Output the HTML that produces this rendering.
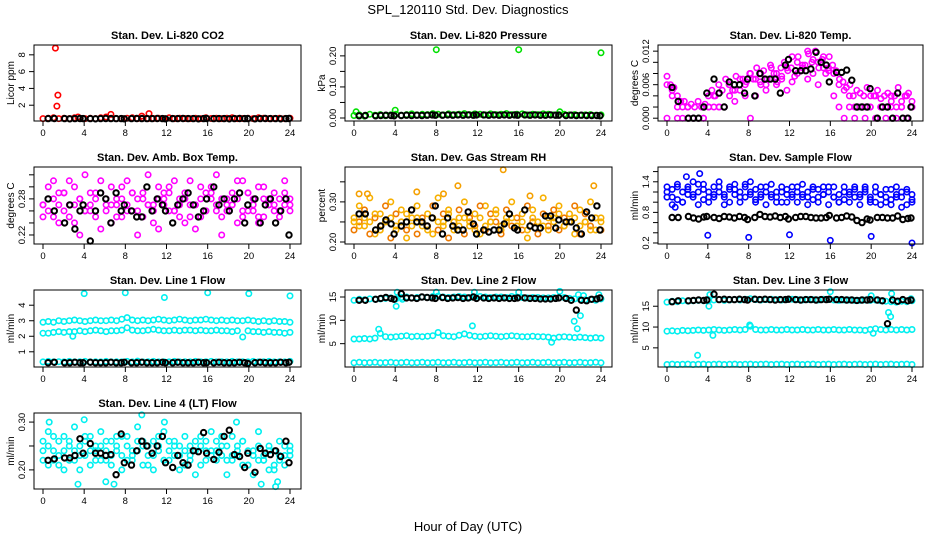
<!DOCTYPE html>
<html><head><meta charset="utf-8">
<style>
html,body{margin:0;padding:0;background:#fff;}
svg{display:block;font-family:"Liberation Sans",sans-serif;}
</style></head>
<body>
<svg id="chart" width="936" height="540" viewBox="0 0 936 540">
<text x="468" y="14" text-anchor="middle" font-size="13">SPL_120110  Std. Dev. Diagnostics</text>
<text x="468" y="531" text-anchor="middle" font-size="13">Hour of Day (UTC)</text>
</svg>
<script>
// ---------- data ----------
const blackHours = [0.5,1.1,2.1,2.6,3.1,3.6,3.9,4.6,5.1,5.6,6.1,6.6,7.1,7.6,7.9,8.6,9.1,9.6,10.1,10.6,11.1,11.6,11.9,12.6,13.1,13.6,14.1,14.6,15.1,15.6,15.9,16.6,17.1,17.6,18.1,18.6,19.1,19.6,19.9,20.6,21.1,21.6,22.1,22.6,23.1,23.6,23.9];
const xTickValues = [0,4,8,12,16,20,24];

const co2Red = [0.4,0.45,0.5,0.4,0.45,0.4,0.5,0.42,0.4,0.45,0.4,0.5,0.6,0.45,0.4,0.42,0.45,0.5,0.4,0.45,0.4,0.42,0.45,0.4,0.5,0.4,0.45,0.42,0.4,0.45,0.4,0.5,0.42,0.45,0.4,0.45,0.5,0.4,0.42,0.45,0.4,0.5,0.45,0.4,0.42,0.45,0.4,0.45];
const co2OutHours = [1.2,1.45,1.35,3.4,6.6,9.6,10.3];
const co2OutVals = [8.8,3.2,1.9,0.6,0.9,0.7,1.0];
const co2Black = [0.4,0.42,0.4,0.38,0.4,0.42,0.4,0.4,0.38,0.4,0.42,0.4,0.4,0.4,0.38,0.4,0.42,0.4,0.4,0.4,0.42,0.4,0.38,0.4,0.4,0.42,0.4,0.4,0.38,0.4,0.42,0.4,0.4,0.4,0.38,0.4,0.42,0.4,0.4,0.38,0.4,0.42,0.4,0.4,0.38,0.4,0.42];

const presGreen = [0.008,0.01,0.006,0.012,0.009,0.011,0.007,0.01,0.012,0.009,0.011,0.013,0.01,0.012,0.011,0.014,0.012,0.01,0.013,0.011,0.012,0.014,0.011,0.013,0.012,0.01,0.013,0.011,0.012,0.014,0.011,0.012,0.013,0.01,0.012,0.011,0.013,0.012,0.01,0.011,0.012,0.01,0.011,0.009,0.01,0.011,0.009,0.01];
const presOutHours = [0.2,4.0,8.0,16.0,20.0,24.0];
const presOutVals = [0.02,0.025,0.22,0.22,0.02,0.21];
const presBlack = [0.007,0.008,0.007,0.008,0.009,0.008,0.007,0.008,0.009,0.008,0.009,0.008,0.009,0.01,0.009,0.009,0.01,0.009,0.01,0.009,0.01,0.009,0.01,0.01,0.009,0.01,0.009,0.01,0.009,0.01,0.009,0.01,0.009,0.01,0.009,0.009,0.01,0.009,0.009,0.008,0.009,0.008,0.009,0.008,0.008,0.008,0.007];

const tempA = [0.0075,0.006,0.0055,0.004,0.003,0.003,0.002,0.0025,0.002,0.003,0.002,0.0025,0.004,0.005,0.004,0.006,0.005,0.007,0.006,0.005,0.0075,0.006,0.007,0.0065,0.008,0.007,0.009,0.0065,0.0085,0.007,0.0095,0.008,0.0065,0.009,0.01,0.0085,0.009,0.0075,0.011,0.0085,0.0095,0.0115,0.01,0.012,0.009,0.0105,0.008,0.011,0.0095,0.0085,0.007,0.0065,0.0055,0.006,0.004,0.005,0.0045,0.004,0.0055,0.004,0.004,0.005,0.0035,0.004,0.0045,0.003,0.004,0.0055,0.003,0.004,0.0045,0.003];
const tempB = [0,0.004,0,0,0.002,0,0,0,0.002,0.002,0.002,0.002,0.004,0.003,0.005,0.004,0,0.004,0.006,0.005,0.007,0.006,0.0075,0.005,0.0065,0.008,0.0095,0.007,0.0105,0.006,0.009,0.0085,0.004,0.002,0,0.002,0,0.002,0,0.002,0,0.002,0,0.002,0,0.002,0,0.002];
const tempC = [0.006,0.005,0.002,0.002,0,0,0,0,0.002,0.004,0.002,0.002,0.006,0.005,0.007,0.006,0.008,0.007,0.008,0.006,0.009,0.008,0.007,0.009,0.011,0.01,0.009,0.012,0.008,0.01,0.011,0.009,0.008,0.006,0.005,0.004,0.002,0.002,0.002,0.002,0.004,0.002,0.002,0.004,0.002,0.002,0.004,0.002];
const tempBlack = [0.0055,0.003,0,0,0,0.002,0.0045,0.007,0.0045,0.002,0.0065,0.006,0.006,0.0045,0.007,0.004,0.008,0.007,0.007,0.007,0.0045,0.0095,0.0105,0.0085,0.0085,0.0085,0.0088,0.0118,0.01,0.0095,0.0065,0.0082,0.0082,0.0086,0.0068,0.002,0.002,0.002,0.0053,0,0.002,0.002,0,0.0045,0,0,0.002];

const ambA = [0.27,0.30,0.25,0.29,0.26,0.31,0.24,0.28,0.32,0.26,0.29,0.23,0.27,0.30,0.25,0.28,0.31,0.26,0.22,0.29,0.27,0.24,0.30,0.28,0.26,0.31,0.25,0.29,0.27,0.23,0.30,0.26,0.28,0.32,0.25,0.27,0.29,0.24,0.31,0.26,0.28,0.30,0.25,0.27,0.29,0.26,0.31,0.27];
const ambB = [0.25,0.28,0.31,0.24,0.29,0.27,0.30,0.22,0.26,0.29,0.25,0.31,0.28,0.24,0.27,0.30,0.26,0.29,0.28,0.25,0.32,0.27,0.23,0.29,0.30,0.26,0.28,0.24,0.31,0.27,0.25,0.29,0.30,0.26,0.22,0.28,0.27,0.31,0.25,0.29,0.26,0.24,0.30,0.28,0.27,0.25,0.29,0.28];
const ambC = [0.27,0.26,0.28,0.27,0.29,0.25,0.27,0.28,0.26,0.27,0.28,0.29,0.26,0.27,0.28,0.25,0.27,0.29,0.26,0.28,0.27,0.26,0.28,0.27,0.29,0.26,0.27,0.28,0.25,0.27,0.28,0.26,0.29,0.27,0.28,0.26,0.27,0.28,0.26,0.29,0.27,0.25,0.28,0.27,0.26,0.28,0.27,0.26];
const ambBlack = [0.28,0.26,0.24,0.27,0.23,0.26,0.27,0.21,0.26,0.29,0.28,0.24,0.29,0.26,0.27,0.26,0.25,0.25,0.30,0.26,0.28,0.27,0.26,0.24,0.27,0.28,0.29,0.27,0.25,0.26,0.28,0.30,0.27,0.28,0.26,0.28,0.29,0.24,0.27,0.28,0.24,0.27,0.28,0.24,0.26,0.28,0.22];

const rhA = [0.26,0.29,0.24,0.31,0.22,0.27,0.25,0.30,0.23,0.28,0.21,0.26,0.29,0.24,0.27,0.22,0.31,0.25,0.28,0.23,0.26,0.30,0.24,0.27,0.22,0.29,0.25,0.28,0.23,0.26,0.30,0.24,0.27,0.21,0.28,0.25,0.31,0.23,0.26,0.29,0.24,0.27,0.22,0.28,0.25,0.30,0.23,0.26];
const rhB = [0.23,0.25,0.28,0.22,0.26,0.24,0.29,0.21,0.27,0.25,0.23,0.28,0.22,0.26,0.24,0.29,0.23,0.27,0.21,0.25,0.28,0.22,0.26,0.24,0.29,0.23,0.27,0.25,0.22,0.28,0.24,0.26,0.23,0.29,0.25,0.22,0.27,0.24,0.28,0.23,0.26,0.25,0.29,0.22,0.27,0.24,0.26,0.23];
const rhC = [0.25,0.24,0.26,0.25,0.27,0.23,0.25,0.26,0.24,0.25,0.27,0.24,0.26,0.25,0.23,0.26,0.25,0.24,0.27,0.25,0.24,0.26,0.25,0.23,0.26,0.24,0.25,0.27,0.24,0.25,0.26,0.24,0.25,0.23,0.26,0.25,0.24,0.26,0.25,0.27,0.24,0.25,0.26,0.24,0.25,0.23,0.26,0.25];
const rhOutHours = [0.5,1.3,6.1,8.7,10.1,14.5,17.1,23.3];
const rhOutVals = [0.32,0.32,0.325,0.32,0.34,0.38,0.315,0.34];
const rhBlack = [0.27,0.27,0.23,0.24,0.255,0.245,0.22,0.24,0.25,0.28,0.25,0.25,0.24,0.26,0.29,0.22,0.26,0.24,0.23,0.23,0.275,0.245,0.22,0.23,0.225,0.23,0.23,0.245,0.27,0.235,0.23,0.28,0.24,0.235,0.235,0.265,0.265,0.235,0.255,0.25,0.25,0.235,0.22,0.275,0.26,0.29,0.23];

const flowA = [1.2,1.1,1.3,1.0,1.25,1.15,1.35,1.05,1.2,1.1,1.3,1.15,1.0,1.25,1.1,1.35,1.2,1.05,1.15,1.3,1.1,1.2,1.0,1.25,1.15,1.3,1.1,1.2,1.05,1.25,1.15,1.3,1.1,1.0,1.2,1.15,1.25,1.1,1.3,1.05,1.2,1.15,1.0,1.25,1.1,1.2,0.95,1.15];
const flowB = [1.1,1.25,1.05,1.2,1.15,1.1,1.2,1.25,1.1,1.15,1.2,1.1,1.25,1.15,1.2,1.1,1.15,1.25,1.1,1.2,1.15,1.1,1.2,1.15,1.1,1.2,1.15,1.1,1.25,1.1,1.15,1.2,1.1,1.15,1.05,1.2,1.1,1.15,1.2,1.1,1.0,1.15,1.1,1.05,1.15,1.1,1.2,1.05];
const flowC = [1.3,0.95,1.35,1.0,1.3,1.4,0.95,1.35,1.0,1.3,1.4,0.95,1.3,1.35,1.0,1.3,1.4,1.0,1.3,0.95,1.35,1.0,1.3,1.0,1.3,1.0,1.35,0.95,1.3,1.0,1.3,0.95,1.3,1.0,1.3,1.0,1.3,0.95,1.25,1.0,1.3,0.95,1.25,0.95,1.3,0.9,1.25,1.0];
const flowOutHours = [3.2,4.0,8.0,12.0,16.0,20.0,24.0,0.8,1.9];
const flowOutVals = [1.56,0.35,0.31,0.36,0.25,0.33,0.2,0.9,1.5];
const flowBlack = [0.7,0.7,0.72,0.69,0.67,0.71,0.72,0.7,0.68,0.72,0.71,0.69,0.72,0.7,0.66,0.7,0.76,0.72,0.71,0.73,0.7,0.72,0.67,0.7,0.72,0.72,0.7,0.69,0.69,0.7,0.74,0.69,0.7,0.73,0.71,0.64,0.6,0.67,0.65,0.7,0.7,0.69,0.69,0.73,0.66,0.68,0.69];

const l1High = [2.9,2.95,2.9,3.0,2.95,3.0,3.05,3.0,2.95,3.0,3.05,3.0,3.0,3.05,3.0,3.1,3.2,3.05,3.0,3.05,3.0,3.05,3.1,3.05,3.0,3.05,3.1,3.05,3.0,3.05,3.05,3.1,3.05,3.0,3.05,3.0,3.05,3.0,3.0,3.05,3.0,2.95,3.0,2.95,3.0,2.95,2.95,2.9];
const l1Mid = [2.2,2.2,2.25,2.3,2.25,2.3,2.3,2.35,2.3,2.35,2.4,2.35,2.3,2.35,2.35,2.4,2.55,2.4,2.35,2.35,2.4,2.45,2.4,2.35,2.35,2.4,2.35,2.4,2.4,2.35,2.4,2.35,2.35,2.4,2.35,2.35,2.3,2.35,1.95,2.35,2.3,2.3,2.25,2.3,2.25,2.25,2.2,2.25];
const l1Low = [0.35,0.38,0.35,0.36,0.35,0.38,0.35,0.36,0.38,0.35,0.36,0.35,0.38,0.35,0.36,0.35,0.38,0.35,0.4,0.35,0.36,0.38,0.35,0.36,0.35,0.38,0.35,0.36,0.35,0.38,0.35,0.36,0.38,0.35,0.36,0.35,0.38,0.35,0.36,0.35,0.38,0.35,0.36,0.38,0.35,0.36,0.35,0.38];
const l1OutHours = [4.0,8.0,11.8,16.0,20.0,24.0,2.9];
const l1OutVals = [4.75,4.8,4.5,4.8,4.75,4.6,2.0];
const l1Black = [0.3,0.32,0.3,0.3,0.32,0.3,0.3,0.32,0.3,0.3,0.3,0.32,0.3,0.3,0.32,0.3,0.3,0.32,0.3,0.3,0.3,0.32,0.3,0.3,0.32,0.3,0.3,0.3,0.32,0.3,0.3,0.3,0.32,0.3,0.3,0.3,0.32,0.3,0.25,0.3,0.32,0.3,0.3,0.3,0.32,0.3,0.32];

const l2High = [14.3,14.5,14.4,14.6,14.5,14.6,14.7,14.8,14.6,14.9,15.0,14.8,14.9,15.0,14.9,15.1,15.2,15.0,14.9,15.0,15.1,15.0,14.9,15.0,15.1,15.0,14.9,15.0,15.0,14.9,15.1,15.0,14.9,14.8,14.9,14.9,14.8,14.8,14.9,14.8,14.9,14.7,14.6,14.5,14.4,14.5,14.3,14.6];
const l2Mid = [6.0,6.0,6.1,6.0,6.2,7.2,6.5,6.4,6.5,6.6,6.7,6.5,6.6,6.5,6.6,6.7,7.4,6.7,6.6,6.5,6.8,7.1,6.8,6.6,6.5,6.6,6.7,6.6,6.5,6.6,6.7,6.6,6.5,6.5,6.6,6.5,6.5,6.4,6.2,6.4,6.5,6.4,6.3,6.4,6.3,6.2,6.3,6.2];
const l2Low = [0.9,1.0,0.9,0.95,1.0,0.9,0.95,1.0,0.9,0.95,1.0,0.9,0.95,1.0,0.9,0.95,1.0,0.9,0.95,1.0,0.9,0.95,1.0,0.9,0.95,1.0,0.9,0.95,1.0,0.9,0.95,1.0,0.9,0.95,1.0,0.9,0.95,1.0,0.9,0.95,1.0,0.9,0.95,1.0,0.9,0.95,1.0,0.9];
const l2OutHours = [4.2,4.1,4.7,8.0,11.7,16.0,20.0,21.4,21.7,21.8,22.0,22.3,23.8,2.4,11.5,19.2];
const l2OutVals = [16,13,14.5,16,16,16,16.2,9.8,8.2,15.5,11,15.3,15.5,8.1,8.8,5.3];
const l2Black = [14.3,14.3,14.5,14.7,14.9,14.7,14.5,15.7,14.8,14.8,14.7,15.0,14.9,14.8,14.7,14.9,14.7,14.8,14.9,14.7,14.8,15.0,14.7,14.8,14.7,14.8,14.7,14.8,14.7,14.7,14.8,14.8,14.7,14.7,14.6,14.6,14.6,14.7,14.8,14.7,14.3,12.2,14.3,14.2,14.5,14.6,14.8];

const l3High = [16.0,16.2,16.1,16.3,16.2,16.3,16.4,16.3,16.4,16.5,16.6,16.4,16.5,16.6,16.5,16.7,16.8,16.6,16.5,16.6,16.7,16.6,16.5,16.6,16.7,16.6,16.5,16.6,16.6,16.5,16.7,16.6,16.5,16.4,16.5,16.5,16.4,16.4,16.5,16.4,16.5,16.3,16.2,16.1,16.0,16.2,16.1,16.3];
const l3Mid = [9.0,9.1,9.0,9.2,9.1,9.2,9.3,9.2,9.3,9.4,9.3,9.2,9.3,9.4,9.3,9.4,10.2,9.4,9.3,9.3,9.4,9.3,9.3,9.4,9.3,9.3,9.4,9.3,9.3,9.4,9.3,9.3,9.4,9.3,9.3,9.4,9.3,9.3,9.2,9.4,9.6,9.4,9.3,9.4,9.3,9.4,9.3,9.4];
const l3Low = [1.0,1.1,1.0,1.05,1.1,1.0,1.05,1.1,1.0,1.05,1.1,1.0,1.05,1.1,1.0,1.05,1.1,1.0,1.05,1.1,1.0,1.05,1.1,1.0,1.05,1.1,1.0,1.05,1.1,1.0,1.05,1.1,1.0,1.05,1.1,1.0,1.05,1.1,1.0,1.05,1.1,1.0,1.05,1.1,1.0,1.05,1.1,1.0];
const l3OutHours = [4.2,4.1,4.5,3.0,8.1,16.0,20.0,20.2,21.7,22.0,21.9,23.9];
const l3OutVals = [17.8,15.0,8.0,3.2,10.5,18.5,17.5,8.5,13.5,18.0,12.5,16.8];
const l3Black = [16.1,16.3,16.3,16.4,16.5,16.4,16.5,17.9,16.6,16.7,16.6,16.6,16.7,16.6,16.5,16.7,16.6,16.7,16.6,16.5,16.6,16.6,16.7,16.6,16.5,16.6,16.6,16.5,16.6,16.6,16.7,16.6,16.6,16.5,16.5,16.4,16.5,16.5,16.6,16.5,16.3,10.8,16.5,16.2,16.6,16.3,16.5];

const l4A = [0.24,0.28,0.22,0.26,0.20,0.25,0.29,0.23,0.27,0.21,0.25,0.28,0.22,0.26,0.24,0.20,0.27,0.23,0.29,0.25,0.21,0.26,0.24,0.28,0.22,0.25,0.20,0.27,0.23,0.26,0.21,0.24,0.28,0.22,0.25,0.19,0.27,0.23,0.26,0.21,0.24,0.28,0.22,0.25,0.20,0.26,0.23,0.25];
const l4B = [0.22,0.25,0.27,0.21,0.24,0.26,0.22,0.25,0.23,0.27,0.24,0.22,0.26,0.23,0.25,0.27,0.22,0.24,0.26,0.21,0.25,0.23,0.27,0.22,0.24,0.26,0.23,0.21,0.25,0.24,0.27,0.22,0.24,0.26,0.23,0.25,0.22,0.24,0.26,0.21,0.23,0.25,0.22,0.24,0.21,0.23,0.25,0.24];
const l4C = [0.26,0.21,0.24,0.23,0.27,0.22,0.24,0.20,0.26,0.24,0.22,0.25,0.24,0.21,0.27,0.23,0.25,0.22,0.24,0.26,0.23,0.20,0.25,0.22,0.26,0.23,0.25,0.24,0.22,0.19,0.25,0.26,0.23,0.24,0.27,0.22,0.23,0.25,0.21,0.24,0.19,0.22,0.23,0.20,0.24,0.22,0.21,0.23];
const l4OutHours = [0.6,3.4,4.0,6.1,6.9,9.6,11.8,18.8,21.2,22.6,22.8];
const l4OutVals = [0.30,0.17,0.305,0.175,0.17,0.315,0.30,0.30,0.17,0.165,0.175];
const l4Black = [0.22,0.223,0.225,0.225,0.23,0.265,0.235,0.255,0.235,0.235,0.23,0.232,0.19,0.275,0.215,0.21,0.24,0.26,0.25,0.235,0.25,0.27,0.215,0.205,0.23,0.215,0.21,0.24,0.238,0.278,0.235,0.222,0.237,0.27,0.283,0.232,0.228,0.205,0.235,0.195,0.245,0.235,0.232,0.24,0.228,0.26,0.215];

const co2Ticks=[2,4,6,8], co2Labels=["2","4","6","8"];
const presTicks=[0,0.05,0.1,0.15,0.2], presLabels=["0.00","","0.10","","0.20"];
const tempTicks=[0,0.002,0.004,0.006,0.008,0.010,0.012], tempLabels=["0.000","","","0.006","","","0.012"];
const ambTicks=[0.22,0.24,0.26,0.28,0.30,0.32], ambLabels=["0.22","","","0.28","",""];
const rhTicks=[0.20,0.25,0.30,0.35], rhLabels=["0.20","","0.30",""];
const flowTicks=[0.2,0.4,0.6,0.8,1.0,1.2,1.4,1.6], flowLabels=["0.2","","","0.8","","","1.4",""];
const l1Ticks=[1,2,3,4], l1Labels=["1","2","3","4"];
const l2Ticks=[5,10,15], l2Labels=["5","10","15"];
const l3Ticks=[5,10,15], l3Labels=["5","10","15"];
const l4Ticks=[0.20,0.25,0.30], l4Labels=["0.20","","0.30"];

// ---------- layout ----------
const cols=[[34,301],[345,612],[658,923]];
const rows=[[45,121],[167,244],[290,367],[413,489]];
const MAG="#ff00ff", CY="#00f0f0", BLK="#000";
const panels=[
 {name:"co2",title:"Stan. Dev. Li-820 CO2",ylab:"Licor ppm",c:0,r:0,dom:[0.12,9.17],ticks:co2Ticks,labels:co2Labels,
  series:[[co2Red,null,"#ff0000"],[co2OutVals,co2OutHours,"#ff0000"],[co2Black,blackHours,BLK]]},
 {name:"pressure",title:"Stan. Dev. Li-820 Pressure",ylab:"kPa",c:1,r:0,dom:[-0.0097,0.235],ticks:presTicks,labels:presLabels,
  series:[[presGreen,null,"#00e000"],[presOutVals,presOutHours,"#00e000"],[presBlack,blackHours,BLK]]},
 {name:"temp",title:"Stan. Dev. Li-820 Temp.",ylab:"degrees C",c:2,r:0,dom:[-0.0005,0.0131],ticks:tempTicks,labels:tempLabels,
  series:[[tempA,null,MAG],[tempB,null,MAG],[tempC,null,MAG],[tempBlack,blackHours,BLK]]},
 {name:"amb-box-temp",title:"Stan. Dev. Amb. Box Temp.",ylab:"degrees C",c:0,r:1,dom:[0.205,0.333],ticks:ambTicks,labels:ambLabels,
  series:[[ambA,null,MAG],[ambB,null,MAG],[ambC,null,MAG],[ambBlack,blackHours,BLK]]},
 {name:"gas-rh",title:"Stan. Dev. Gas Stream RH",ylab:"percent",c:1,r:1,dom:[0.195,0.387],ticks:rhTicks,labels:rhLabels,
  series:[[rhA,null,"#f7b000"],[rhB,null,"#ee7a00"],[rhC,null,"#f7b000"],[rhOutVals,rhOutHours,"#f5a000"],[rhBlack,blackHours,BLK]]},
 {name:"sample-flow",title:"Stan. Dev. Sample Flow",ylab:"ml/min",c:2,r:1,dom:[0.18,1.69],ticks:flowTicks,labels:flowLabels,
  series:[[flowA,null,"#0000ff"],[flowB,null,"#0000ff"],[flowC,null,"#0000ff"],[flowOutVals,flowOutHours,"#0000ff"],[flowBlack,blackHours,BLK]]},
 {name:"line1-flow",title:"Stan. Dev. Line 1 Flow",ylab:"ml/min",c:0,r:2,dom:[0.02,4.98],ticks:l1Ticks,labels:l1Labels,
  series:[[l1High,null,CY],[l1Mid,null,CY],[l1Low,null,CY],[l1OutVals,l1OutHours,CY],[l1Black,blackHours,BLK]]},
 {name:"line2-flow",title:"Stan. Dev. Line 2 Flow",ylab:"ml/min",c:1,r:2,dom:[0,16.5],ticks:l2Ticks,labels:l2Labels,
  series:[[l2High,null,CY],[l2Mid,null,CY],[l2Low,null,CY],[l2OutVals,l2OutHours,CY],[l2Black,blackHours,BLK]]},
 {name:"line3-flow",title:"Stan. Dev. Line 3 Flow",ylab:"ml/min",c:2,r:2,dom:[0.4,18.9],ticks:l3Ticks,labels:l3Labels,
  series:[[l3High,null,CY],[l3Mid,null,CY],[l3Low,null,CY],[l3OutVals,l3OutHours,CY],[l3Black,blackHours,BLK]]},
 {name:"line4-flow",title:"Stan. Dev. Line 4 (LT) Flow",ylab:"ml/min",c:0,r:3,dom:[0.16,0.319],ticks:l4Ticks,labels:l4Labels,
  series:[[l4A,null,CY],[l4B,null,CY],[l4C,null,CY],[l4OutVals,l4OutHours,CY],[l4Black,blackHours,BLK]]}
];

const NS="http://www.w3.org/2000/svg";
const svg=document.getElementById('chart');
function mk(tag,attrs,parent){const e=document.createElementNS(NS,tag);for(const k in attrs)e.setAttribute(k,attrs[k]);(parent||svg).appendChild(e);return e;}

panels.forEach(p=>{
  const [L,R]=cols[p.c],[T,B]=rows[p.r];
  const g=mk('g',{});
  
  
  const xs=h=>L+9+h/24*(R-L-20);
  const ys=v=>B-(v-p.dom[0])/(p.dom[1]-p.dom[0])*(B-T);
  p.series.forEach((s,si)=>{
    const [vals,hrs,col]=s;
    const sg=mk('g',{fill:'none',stroke:col,'stroke-width':(col===BLK?2.0:1.6)},g);
    
    
    const n=vals.length;
    for(let i=0;i<n;i++){
      const h=hrs?hrs[i]:(i*24/(n-1));
      if(h===undefined)continue;
      let y=ys(vals[i]); y=Math.max(T+1,Math.min(B-1,y));
      const c=mk('circle',{cx:xs(h).toFixed(1),cy:y.toFixed(1),r:2.7},sg);
      
      
    }
  });
  const box=mk('rect',{x:L,y:T,width:R-L,height:B-T,fill:'none',stroke:'#000','stroke-width':1},g);
  
  
  const t=mk('text',{x:(L+R)/2,y:T-6,'text-anchor':'middle','font-size':11,'font-weight':'bold'},g);
  t.textContent=p.title;
  
  
  const xa=mk('g',{},g);
  
  
  mk('line',{x1:xs(0),x2:xs(24),y1:B,y2:B,stroke:'#000'},xa);
  xTickValues.forEach(v=>{
    mk('line',{x1:xs(v),x2:xs(v),y1:B,y2:B+5,stroke:'#000'},xa);
    const tl=mk('text',{x:xs(v),y:B+15,'text-anchor':'middle','font-size':9.5},xa);
    tl.textContent=v;
    
    
  });
  const ya=mk('g',{},g);
  
  
  mk('line',{x1:L,x2:L,y1:ys(p.ticks[0]),y2:ys(p.ticks[p.ticks.length-1]),stroke:'#000'},ya);
  p.ticks.forEach((v,i)=>{
    const y=ys(v);
    mk('line',{x1:L-5,x2:L,y1:y,y2:y,stroke:'#000'},ya);
    if(p.labels[i]){
      const tl=mk('text',{x:L-9,y:y,'text-anchor':'middle','font-size':9.5,transform:`rotate(-90 ${L-9} ${y})`},ya);
      tl.textContent=p.labels[i];
      
      
    }
  });
  const yl=mk('text',{x:L-20,y:(T+B)/2,'text-anchor':'middle','font-size':10,transform:`rotate(-90 ${L-20} ${(T+B)/2})`},g);
  yl.textContent=p.ylab;
  
  
});
</script>
</body></html>
